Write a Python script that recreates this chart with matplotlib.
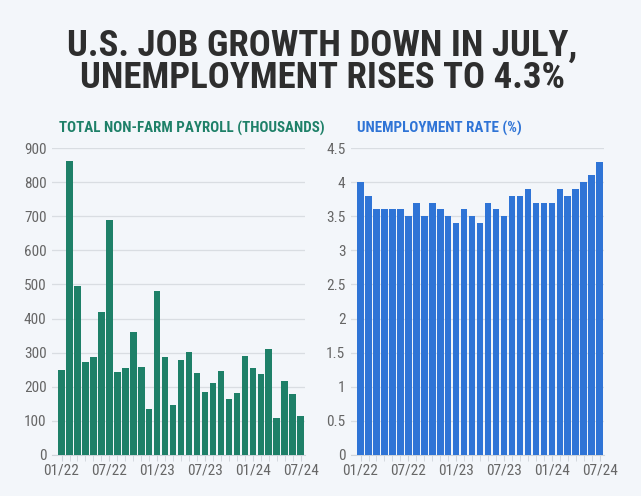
import matplotlib.pyplot as plt
import numpy as np

# monthly data, 01/22 .. 07/24
months = ['01/22', '02/22', '03/22', '04/22', '05/22', '06/22', '07/22', '08/22', '09/22', '10/22', '11/22', '12/22',
          '01/23', '02/23', '03/23', '04/23', '05/23', '06/23', '07/23', '08/23', '09/23', '10/23', '11/23', '12/23',
          '01/24', '02/24', '03/24', '04/24', '05/24', '06/24', '07/24']
payroll = [250, 862, 494, 272, 286, 420, 690, 243, 255, 360, 258, 136,
           482, 287, 146, 278, 303, 240, 184, 210, 246, 165, 182, 290,
           256, 236, 310, 108, 216, 179, 114]
unemployment = [4.0, 3.8, 3.6, 3.6, 3.6, 3.6, 3.5, 3.7, 3.5, 3.7, 3.6, 3.5,
                3.4, 3.6, 3.5, 3.4, 3.7, 3.6, 3.5, 3.8, 3.8, 3.9, 3.7, 3.7,
                3.7, 3.9, 3.8, 3.9, 4.0, 4.1, 4.3]
payroll_ticks = [0, 100, 200, 300, 400, 500, 600, 700, 800, 900]
rate_ticks = [0, 0.5, 1, 1.5, 2, 2.5, 3, 3.5, 4, 4.5]
rate_ticklabels = ['0', '0.5', '1', '1.5', '2', '2.5', '3', '3.5', '4', '4.5']
title_lines = ['U.S. JOB GROWTH DOWN IN JULY,', 'UNEMPLOYMENT RISES TO 4.3%']

bg = '#f3f6fa'
green = '#1e8068'
blue = '#2f74d6'
cond = ['Roboto Condensed', 'DejaVu Sans']

fig = plt.figure(figsize=(6.41, 4.96), dpi=100, facecolor=bg)

# title, one text per line so the baselines sit where the reference has them
for line, base in zip(title_lines, [56, 88]):
    fig.text(0.503, 1 - base / 496, line, ha='center', va='baseline', fontsize=26.5,
             fontweight='bold', color='#2e2e2e', family=cond)
fig.text(59 / 641, 1 - 128 / 496, 'TOTAL NON-FARM PAYROLL (THOUSANDS)', ha='left', va='center',
         fontsize=10.8, fontweight='bold', color=green, family=cond)
fig.text(357 / 641, 1 - 128 / 496, 'UNEMPLOYMENT RATE (%)', ha='left', va='center',
         fontsize=10.8, fontweight='bold', color=blue, family=cond)

x = np.arange(len(months))
ax1 = fig.add_axes([52 / 641, 1 - 455 / 496, 253 / 641, 307 / 496])
ax2 = fig.add_axes([351 / 641, 1 - 455 / 496, 253 / 641, 307 / 496])

panels = [(ax1, payroll, green, payroll_ticks, [str(t) for t in payroll_ticks], 900),
          (ax2, unemployment, blue, rate_ticks, rate_ticklabels, 4.5)]
for ax, vals, col, ticks, labels, top in panels:
    ax.set_facecolor(bg)
    ax.bar(x, vals, width=0.82, color=col, zorder=3)
    ax.set_ylim(0, top)
    ax.set_xlim(-1.2, len(months) - 0.45)
    ax.set_yticks(ticks)
    ax.set_yticklabels(labels)
    ax.grid(axis='y', color='#d9dde2', linewidth=0.9, zorder=0)
    for s in ['left', 'right', 'top']:
        ax.spines[s].set_visible(False)
    ax.spines['bottom'].set_color('#cfd4da')
    ax.set_xticks(x[::6])
    ax.set_xticklabels(months[::6])
    ax.set_xticks(x, minor=True)
    ax.tick_params(axis='x', which='both', length=4, color='#cfd4da', labelsize=11,
                   labelcolor='#666666', pad=2)
    ax.tick_params(axis='y', length=0, labelsize=11, labelcolor='#666666', pad=4)
    for lab in ax.get_xticklabels() + ax.get_yticklabels():
        lab.set_family(cond)

fig.savefig('out.png', dpi=100, facecolor=bg)
